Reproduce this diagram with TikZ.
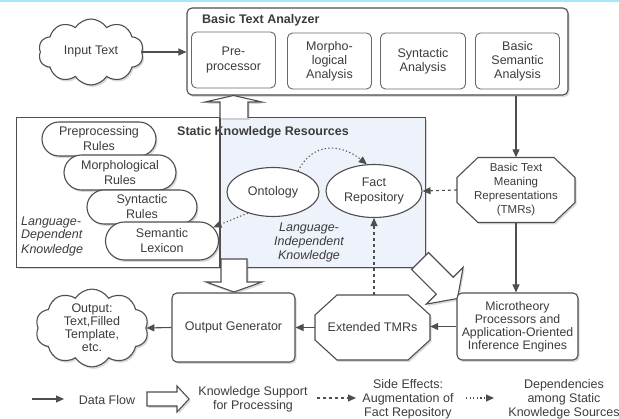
\documentclass[tikz,border=0pt]{standalone}
\usepackage{fontspec}
\setmainfont{Liberation Sans}
\usetikzlibrary{shapes.geometric,shapes.symbols,shapes.misc,arrows.meta,shadows,calc}
\definecolor{txt}{HTML}{3C3C3C}
\definecolor{ln}{HTML}{4E4E4E}
\definecolor{kbg}{HTML}{EEF2FA}
\definecolor{topc}{HTML}{A6E8FA}
\newcommand\myoct[6]{\path[octo] (#1-#3+#5,#2-#4) -- (#1+#3-#5,#2-#4) -- (#1+#3,#2-#4+#6) -- (#1+#3,#2+#4-#6) -- (#1+#3-#5,#2+#4) -- (#1-#3+#5,#2+#4) -- (#1-#3,#2+#4-#6) -- (#1-#3,#2-#4+#6) -- cycle;}
\begin{document}
\begin{tikzpicture}[x=1pt,y=-1pt,
  every node/.style={text=txt, font=\fontsize{12.5}{14}\selectfont, align=center, inner sep=1pt},
  boldf/.style={font=\fontsize{12.5}{14}\selectfont\bfseries},
  itf/.style={font=\fontsize{12.5}{14}\selectfont\itshape},
  shad/.style={drop shadow={opacity=0.3, shadow xshift=1.5pt, shadow yshift=-2pt}},
  box/.style={draw=ln, line width=1.1pt, fill=white, rounded corners=5pt, shad},
  subbox/.style={draw=ln!85, line width=0.9pt, fill=white, rounded corners=5pt},
  rule/.style={rounded rectangle, draw=ln, line width=1.1pt, fill=white, shad, minimum height=34pt, font=\fontsize{12.5}{15}\selectfont},
  ell/.style={ellipse, draw=ln, line width=1.1pt, fill=white},
  cloudbox/.style={cloud, cloud puffs=10, cloud puff arc=115, cloud ignores aspect, draw=ln, line width=1.1pt, fill=white, shad, inner sep=0pt},
  octo/.style={draw=ln, line width=1.1pt, fill=white, shad},
  flow/.style={draw=ln, line width=1.1pt, -{Triangle[length=8pt,width=7pt]}},
  side/.style={flow, dash pattern=on 3pt off 3pt},
  dep/.style={flow, dash pattern=on 1.2pt off 2.4pt},
  bigarr/.style={draw=ln, line width=1.1pt, fill=white, line join=miter, shad}
]
\useasboundingbox (0,0) rectangle (619,419);
\fill[topc] (0,0) rectangle (619,2.5);

% Basic Text Analyzer
\node[box, minimum width=381pt, minimum height=87pt] (ana) at (377.5,51.5) {};
\node[boldf, anchor=west] (anat) at (201,20) {Basic Text Analyzer};
\node[subbox, minimum width=84pt, minimum height=56pt, font=\fontsize{12.5}{15}\selectfont] (pre) at (233.5,60) {Pre-\\processor};
\node[subbox, minimum width=84pt, minimum height=56pt] (mor) at (329.5,61) {Morpho-\\logical\\Analysis};
\node[subbox, minimum width=85pt, minimum height=56pt] (syn) at (423,61) {Syntactic\\Analysis};
\node[subbox, minimum width=84pt, minimum height=56pt] (sem) at (517.5,61) {Basic\\Semantic\\Analysis};

% Input
\node[cloudbox, minimum width=105pt, minimum height=66pt] (in) at (91,52) {Input Text};
\draw[flow] (in.east) -- (in.east -| ana.west);

% Static Knowledge Resources
\node[fill=white, shad, minimum width=408pt, minimum height=149pt, inner sep=0pt] (skr) at (221,192.5) {};
\coordinate (dvt) at (220,118);
\coordinate (dvb) at (220,267);
\fill[kbg] (dvt) rectangle (skr.south east);
\draw[ln, line width=1.1pt] (skr.north west) rectangle (skr.south east);
\node[boldf] (skt) at (263,132) {Static Knowledge Resources};
\draw[ln, line width=1.1pt] (dvt) -- (dvb);

\node[rule, minimum width=116pt] (r1) at (99,139) {Preprocessing\\Rules};
\node[rule, minimum width=114pt, minimum height=35pt] (r2) at (120,172.5) {Morphological\\Rules};
\node[rule, minimum width=112pt] (r3) at (142,207) {Syntactic\\Rules};
\node[rule, minimum width=115pt, minimum height=38pt] (r4) at (162,241) {Semantic\\Lexicon};
\node[itf, align=left, anchor=west] (ldk) at (20,236) {Language-\\Dependent\\Knowledge};

\node[ell, minimum width=92pt, minimum height=49pt] (ont) at (273,192) {Ontology};
\node[ell, minimum width=96pt, minimum height=53pt] (fact) at (374,191) {Fact\\Repository};
\node[itf] (lik) at (309,242) {Language-\\Independent\\Knowledge};

% big knowledge-support arrows
\filldraw[bigarr] (220,118) -- (220,102) -- (205,102) -- (233.5,95.5) -- (262,102) -- (248,102) -- (248,118);
\filldraw[bigarr] (221,259) -- (247,259) -- (247,282) -- (262,282) -- (234,292) -- (206,282) -- (221,282) -- cycle;
\begin{scope}[shift={(420,261)}, rotate=-45]
\filldraw[bigarr] (0,-12) -- (35,-12) -- (35,-26) -- (53,0) -- (35,26) -- (35,12) -- (0,12) -- cycle;
\end{scope}

% TMRs
\myoct{516}{190}{59}{32.5}{21}{20}
\node[font=\fontsize{11.5}{14}\selectfont, minimum width=118pt, minimum height=65pt] (tmr) at (516,190) {Basic Text\\Meaning\\Representations\\(TMRs)};

\node[box, minimum width=121pt, minimum height=67pt, font=\fontsize{12.3}{13}\selectfont] (mic) at (517.5,326.5) {Microtheory\\Processors and\\Application-Oriented\\Inference Engines};

\myoct{372.5}{327.5}{57.5}{32.5}{22}{20}
\node[minimum width=115pt, minimum height=65pt] (ext) at (372.5,327.5) {Extended TMRs};

\node[box, minimum width=123pt, minimum height=69pt] (og) at (233.5,327.5) {Output Generator};
\node[cloudbox, minimum width=113pt, minimum height=75pt, font=\fontsize{12.5}{13}\selectfont] (out) at (92,328) {Output:\\Text,Filled\\Template,\\etc.};

% connectors
\draw[flow] (ana.south -| tmr.north) -- (tmr.north);
\draw[flow] (tmr.south) -- (tmr.south |- mic.north);
\draw[side] (tmr.west) -- (fact.east);
\draw[flow] (mic.west) -- (mic.west -| ext.east);
\draw[flow] (ext.west) -- (og.east);
\draw[flow] (og.west) -- (out.east);
\draw[side] (ext.north -| fact.south) -- (fact.south);
\draw[dep] (ont.40) .. controls +(15,-30) and +(-25,-20) .. (fact.105);
\draw[dep] (ont.220) -- (r4.15);

% legend
\coordinate (a1) at (32,399);
\coordinate (a2) at (64,399);
\draw[flow] (a1) -- (a2);
\node (lt1) at (107,400) {Data Flow};
\filldraw[bigarr] (147,392) -- (177,392) -- (177,386) -- (189,399) -- (177,412) -- (177,406) -- (147,406) -- cycle;
\node (lt2) at (253,399) {Knowledge Support\\for Processing};
\coordinate (b1) at (317,398);
\coordinate (b2) at (356,398);
\draw[side] (b1) -- (b2);
\node (lt3) at (408,399) {Side Effects:\\Augmentation of\\Fact Repository};
\coordinate (c1) at (466,398);
\coordinate (c2) at (494,398);
\draw[dep] (c1) -- (c2);
\node (lt4) at (564,399) {Dependencies\\among Static\\Knowledge Sources};
\end{tikzpicture}
\end{document}
